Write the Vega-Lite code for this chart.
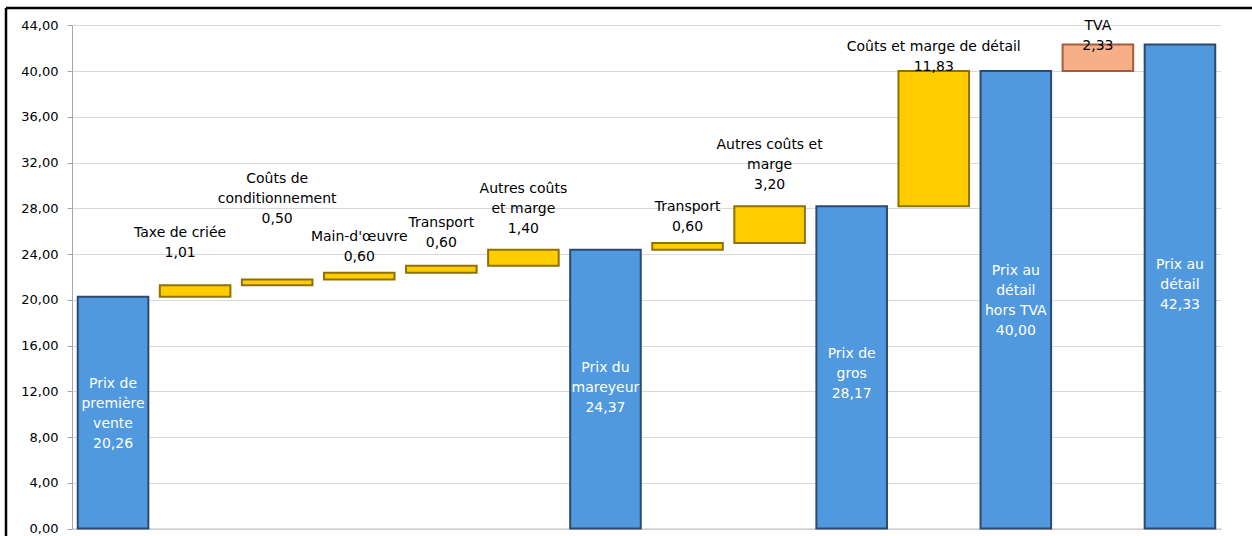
{
  "$schema": "https://vega.github.io/schema/vega-lite/v6.json",
  "width": 1246,
  "height": 528,
  "autosize": {"type": "none"},
  "padding": {"left": 6, "top": 8, "right": 0, "bottom": 0},
  "background": "white",
  "view": {"stroke": "#000000", "strokeWidth": 2.5, "strokeDash": [1246, 1774, 528, 0]},
  "config": {"font": "DejaVu Sans"},
  "data": {
    "values": [
      {"pos": 1, "name": "Prix de\npremière\nvente", "kind": "total", "base": 0, "value": 20.26},
      {"pos": 2, "name": "Taxe de criée", "kind": "increase", "base": 20.26, "value": 1.01},
      {"pos": 3, "name": "Coûts de\nconditionnement", "kind": "increase", "base": 21.27, "value": 0.50},
      {"pos": 4, "name": "Main-d'œuvre", "kind": "increase", "base": 21.77, "value": 0.60},
      {"pos": 5, "name": "Transport", "kind": "increase", "base": 22.37, "value": 0.60},
      {"pos": 6, "name": "Autres coûts\net marge", "kind": "increase", "base": 22.97, "value": 1.40},
      {"pos": 7, "name": "Prix du\nmareyeur", "kind": "total", "base": 0, "value": 24.37},
      {"pos": 8, "name": "Transport", "kind": "increase", "base": 24.37, "value": 0.60},
      {"pos": 9, "name": "Autres coûts et\nmarge", "kind": "increase", "base": 24.97, "value": 3.20},
      {"pos": 10, "name": "Prix de\ngros", "kind": "total", "base": 0, "value": 28.17},
      {"pos": 11, "name": "Coûts et marge de détail", "kind": "increase", "base": 28.17, "value": 11.83},
      {"pos": 12, "name": "Prix au\ndétail\nhors TVA", "kind": "total", "base": 0, "value": 40.00},
      {"pos": 13, "name": "TVA", "kind": "tax", "base": 40.00, "value": 2.33},
      {"pos": 14, "name": "Prix au\ndétail", "kind": "total", "base": 0, "value": 42.33}
    ]
  },
  "transform": [
    {"calculate": "datum.base + datum.value", "as": "top"},
    {"calculate": "datum.base + datum.value / 2", "as": "mid"},
    {"calculate": "datum.name + '\\n' + replace(format(datum.value, '.2f'), '.', ',')", "as": "label"}
  ],
  "encoding": {
    "x": {
      "field": "pos",
      "type": "ordinal",
      "scale": {"range": [66, 1215], "paddingInner": 0.14, "paddingOuter": 0.07},
      "axis": {"labels": false, "ticks": false, "title": null, "domainColor": "#bfbfbf", "offset": -7.5, "grid": false}
    }
  },
  "layer": [
    {
      "mark": {"type": "bar", "strokeWidth": 2},
      "encoding": {
        "y": {
          "field": "top",
          "type": "quantitative",
          "title": null,
          "scale": {"domain": [0, 44], "range": [520.5, 17.3], "nice": false, "zero": true},
          "axis": {
            "title": null,
            "values": [0, 4, 8, 12, 16, 20, 24, 28, 32, 36, 40, 44],
            "labelExpr": "replace(format(datum.value, '.2f'), '.', ',')",
            "labelFontSize": 13,
            "labelColor": "#000000",
            "labelPadding": 9,
            "tickSize": 5,
            "tickColor": "#a6a6a6",
            "domainColor": "#a6a6a6",
            "gridColor": "#d9d9d9",
            "grid": true,
            "offset": -66
          }
        },
        "y2": {"field": "base"},
        "color": {
          "field": "kind",
          "type": "nominal",
          "scale": {"domain": ["total", "increase", "tax"], "range": ["#5199DF", "#FFCC00", "#F7AF87"]},
          "legend": null
        },
        "stroke": {
          "field": "kind",
          "type": "nominal",
          "scale": {"domain": ["total", "increase", "tax"], "range": ["#2C4A6E", "#8E7200", "#A35C3D"]},
          "legend": null
        }
      }
    },
    {
      "transform": [{"filter": {"field": "pos", "oneOf": [1, 12]}}],
      "mark": {"type": "text", "lineBreak": "\n", "lineHeight": 20, "fontSize": 14, "baseline": "middle", "dy": -29, "color": "#ffffff"},
      "encoding": {
        "y": {"field": "mid", "type": "quantitative", "title": null},
        "text": {"field": "label"}
      }
    },
    {
      "transform": [{"filter": {"field": "pos", "oneOf": [7, 14]}}],
      "mark": {"type": "text", "lineBreak": "\n", "lineHeight": 20, "fontSize": 14, "baseline": "middle", "dy": -21, "color": "#ffffff"},
      "encoding": {
        "y": {"field": "mid", "type": "quantitative", "title": null},
        "text": {"field": "label"}
      }
    },
    {
      "transform": [{"filter": {"field": "pos", "equal": 10}}],
      "mark": {"type": "text", "lineBreak": "\n", "lineHeight": 20, "fontSize": 14, "baseline": "middle", "dy": -13, "color": "#ffffff"},
      "encoding": {
        "y": {"field": "mid", "type": "quantitative", "title": null},
        "text": {"field": "label"}
      }
    },
    {
      "transform": [{"filter": {"field": "pos", "oneOf": [4, 8]}}],
      "mark": {"type": "text", "lineBreak": "\n", "lineHeight": 20, "fontSize": 14, "baseline": "bottom", "dy": -29, "color": "#000000"},
      "encoding": {
        "y": {"field": "top", "type": "quantitative", "title": null},
        "text": {"field": "label"}
      }
    },
    {
      "transform": [{"filter": {"field": "pos", "equal": 5}}],
      "mark": {"type": "text", "lineBreak": "\n", "lineHeight": 20, "fontSize": 14, "baseline": "bottom", "dy": -36, "color": "#000000"},
      "encoding": {
        "y": {"field": "top", "type": "quantitative", "title": null},
        "text": {"field": "label"}
      }
    },
    {
      "transform": [{"filter": {"field": "pos", "oneOf": [6, 9]}}],
      "mark": {"type": "text", "lineBreak": "\n", "lineHeight": 20, "fontSize": 14, "baseline": "bottom", "dy": -54, "color": "#000000"},
      "encoding": {
        "y": {"field": "top", "type": "quantitative", "title": null},
        "text": {"field": "label"}
      }
    },
    {
      "transform": [{"filter": {"field": "pos", "equal": 2}}],
      "mark": {"type": "text", "lineBreak": "\n", "lineHeight": 20, "fontSize": 14, "baseline": "bottom", "dy": -45, "dx": -15, "color": "#000000"},
      "encoding": {
        "y": {"field": "top", "type": "quantitative", "title": null},
        "text": {"field": "label"}
      }
    },
    {
      "transform": [{"filter": {"field": "pos", "equal": 3}}],
      "mark": {"type": "text", "lineBreak": "\n", "lineHeight": 20, "fontSize": 14, "baseline": "bottom", "dy": -94, "color": "#000000"},
      "encoding": {
        "y": {"field": "top", "type": "quantitative", "title": null},
        "text": {"field": "label"}
      }
    },
    {
      "transform": [{"filter": {"field": "pos", "equal": 11}}],
      "mark": {"type": "text", "lineBreak": "\n", "lineHeight": 20, "fontSize": 14, "baseline": "bottom", "dy": -17, "color": "#000000"},
      "encoding": {
        "y": {"field": "top", "type": "quantitative", "title": null},
        "text": {"field": "label"}
      }
    },
    {
      "transform": [{"filter": {"field": "pos", "equal": 13}}],
      "mark": {"type": "text", "lineBreak": "\n", "lineHeight": 20, "fontSize": 14, "baseline": "bottom", "dy": -11, "color": "#000000"},
      "encoding": {
        "y": {"field": "top", "type": "quantitative", "title": null},
        "text": {"field": "label"}
      }
    }
  ]
}
